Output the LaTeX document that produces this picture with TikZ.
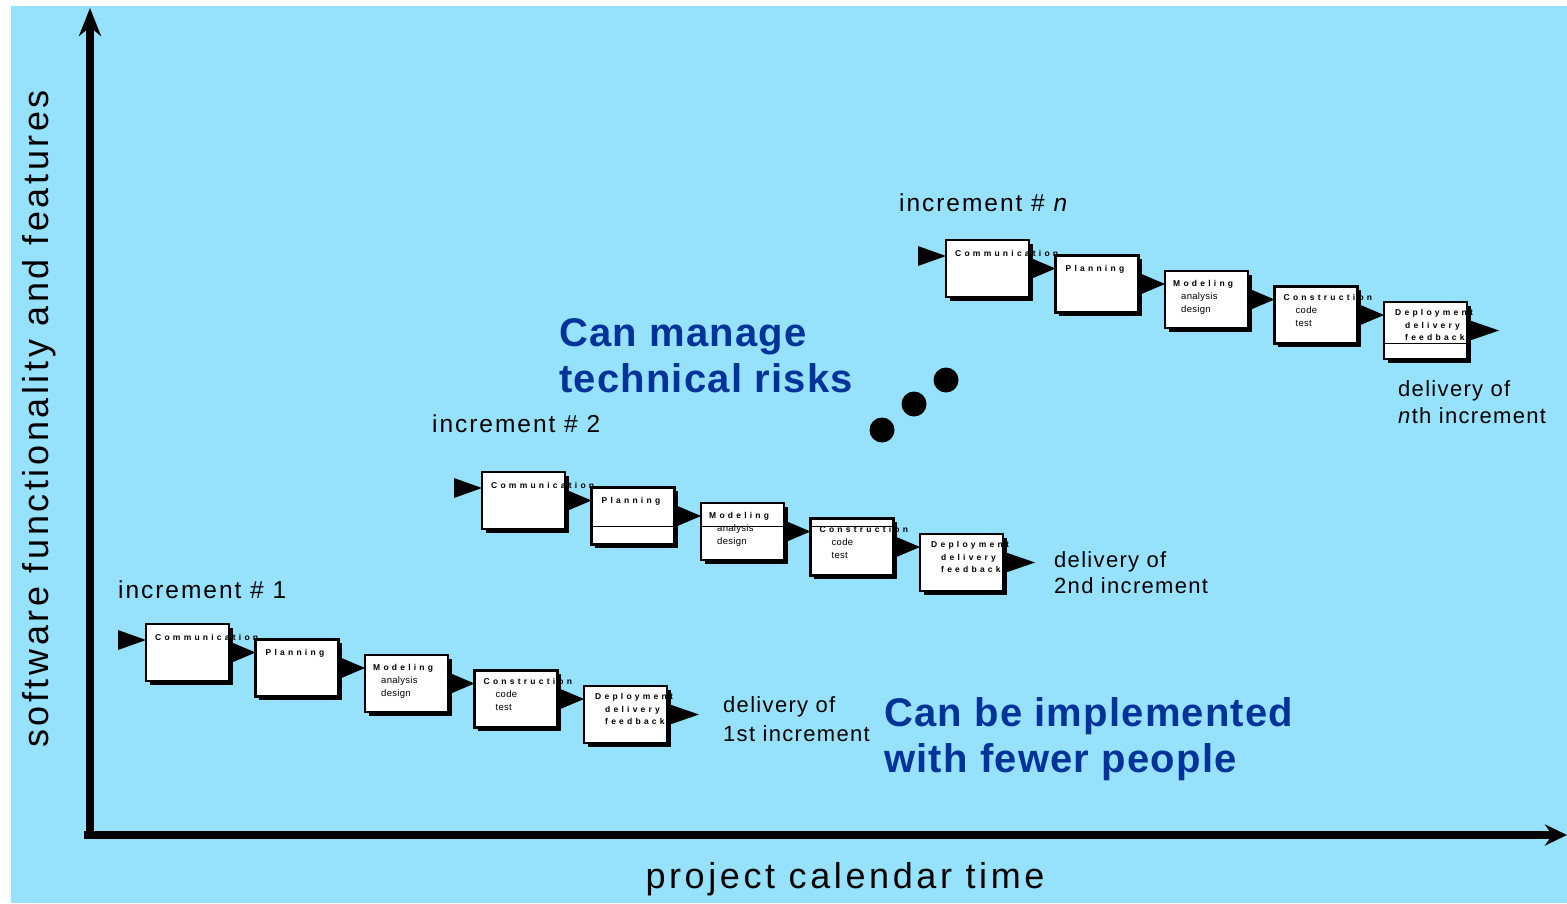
\documentclass[tikz,border=0pt]{standalone}
\usepackage{fontspec}
\setmainfont{Liberation Sans}
\newfontfamily\axisfont[LetterSpace=10]{Liberation Sans}
\newfontfamily\incfont[LetterSpace=8]{Liberation Sans}
\newfontfamily\delfont[LetterSpace=6]{Liberation Sans}
\newfontfamily\notefont[LetterSpace=3]{Liberation Sans}
\newfontfamily\stagefont[LetterSpace=38]{Liberation Sans}
\newfontfamily\itemfont[LetterSpace=3]{Liberation Sans}
\usetikzlibrary{arrows.meta}
\usetikzlibrary{shadows}
\definecolor{skyback}{RGB}{150,226,252}
\definecolor{noteblue}{RGB}{0,51,153}
\tikzset{
  stagebox/.style={draw=black, line width=2.5pt, fill=white, anchor=north west,
    minimum width=83pt, minimum height=57pt, inner sep=0pt, outer sep=0pt,
    drop shadow={shadow xshift=3.5pt, shadow yshift=-3.5pt, fill=black, opacity=1}},
  stagetitle/.style={anchor=base west, inner sep=0pt, font=\stagefont\bfseries\fontsize{8.5}{10}\selectfont},
  stageitem/.style={anchor=base west, inner sep=0pt, font=\itemfont\fontsize{9.5}{11}\selectfont},
  inclabel/.style={anchor=base west, inner sep=0pt, font=\incfont\fontsize{24.5}{29}\selectfont},
  deltext/.style={anchor=base west, inner sep=0pt, font=\delfont\fontsize{22}{26}\selectfont},
  note/.style={anchor=base west, inner sep=0pt, text=noteblue, font=\notefont\bfseries\fontsize{40}{46}\selectfont},
  axislabel/.style={anchor=base, inner sep=0pt, font=\axisfont\fontsize{36}{42}\selectfont},
  axisline/.style={line width=8pt},
  blob/.style={circle, fill=black, minimum size=25pt, inner sep=0pt}
}
\begin{document}
\begin{tikzpicture}[x=1pt,y=-1pt]
  \newcommand{\incdx}{109.5}
  \newcommand{\incdy}{15.5}
  \useasboundingbox (0,0) rectangle (1567,903);
  \fill[skyback] (11,6) rectangle (1567,903);

  % axes
  \coordinate (origin) at (90,835);
  \coordinate (ytop) at (90,8);
  \coordinate (xend) at (1567,835);
  \draw[axisline,-{Stealth[length=28pt,width=22pt]}] ([yshift=-4pt]origin) -- (ytop);
  \draw[axisline,-{Stealth[length=22pt,width=21pt]}] ([xshift=-6pt]origin) -- (xend);
  \node[axislabel,rotate=90] (ylab) at (48,419) {software functionality and features};
  \node[axislabel] (xlab) at (845,888) {project calendar time};

  % increments
  \foreach \k/\x/\y in {1/146/624, 2/482/472, 3/946/240} {
    \node[stagebox] (c\k) at (\x,\y) {};
    \node[stagebox] (p\k) at (\x+\incdx,\y+\incdy) {};
    \node[stagebox] (m\k) at (\x+2*\incdx,\y+2*\incdy) {};
    \node[stagebox] (k\k) at (\x+3*\incdx,\y+3*\incdy) {};
    \node[stagebox] (d\k) at (\x+4*\incdx,\y+4*\incdy) {};
    \foreach \a/\b in {c/p, p/m, m/k, k/d} {
      \fill ([xshift=3pt,yshift=10pt]\a\k.east) -- (\b\k.west |- \a\k.east)
        -- ([xshift=3pt,yshift=-10pt]\a\k.east) -- cycle;
    }
    \coordinate (in\k) at ([xshift=-28pt,yshift=-16pt]c\k.north west);
    \coordinate (out\k) at ([xshift=32pt]d\k.east);
    \fill ([yshift=10pt]in\k) -- (c\k.west |- in\k) -- ([yshift=-10pt]in\k) -- cycle;
    \fill ([xshift=3pt,yshift=10pt]d\k.east) -- (out\k) -- ([xshift=3pt,yshift=-10pt]d\k.east) -- cycle;
    \node[stagetitle] (ct\k) at ([xshift=9pt,yshift=-16pt]c\k.north west) {Communication};
    \node[stagetitle] (pt\k) at ([xshift=10pt,yshift=-16pt]p\k.north west) {Planning};
    \node[stagetitle] (mt\k) at ([xshift=8pt,yshift=-15pt]m\k.north west) {Modeling};
    \node[stageitem] (ma\k) at ([xshift=16pt,yshift=-28pt]m\k.north west) {analysis};
    \node[stageitem] (md\k) at ([xshift=16pt,yshift=-41pt]m\k.north west) {design};
    \node[stagetitle] (kt\k) at ([xshift=9pt,yshift=-14pt]k\k.north west) {Construction};
    \node[stageitem] (kc\k) at ([xshift=21pt,yshift=-27pt]k\k.north west) {code};
    \node[stageitem] (ks\k) at ([xshift=21pt,yshift=-40pt]k\k.north west) {test};
    \node[stagetitle] (dt\k) at ([xshift=11pt,yshift=-13pt]d\k.north west) {Deployment};
    \node[stagetitle] (dd\k) at ([xshift=21pt,yshift=-26pt]d\k.north west) {delivery};
    \node[stagetitle] (df\k) at ([xshift=21pt,yshift=-38pt]d\k.north west) {feedback};
  }

  % stray rules
  \coordinate (rulea) at (0,526.5);
  \coordinate (ruleb) at (0,343);
  \draw[line width=1pt] (p2.west |- rulea) -- (p2.east |- rulea);
  \draw[line width=1pt] (m2.west |- rulea) -- (m2.east |- rulea);
  \draw[line width=1pt] (k2.west |- rulea) -- (k2.east |- rulea);
  \draw[line width=1pt] (d3.west |- ruleb) -- (d3.east |- ruleb);

  % labels
  \node[inclabel] (inc1) at (118,598) {increment \# 1};
  \node[inclabel] (inc2) at (432,432) {increment \# 2};
  \node[inclabel] (inc3) at (899,211) {increment \# \textit{n}};
  \node[deltext] (del1) at (723,712) {delivery of};
  \node[deltext] (del1b) at (723,741) {1st increment};
  \node[deltext] (del2) at (1054,567) {delivery of};
  \node[deltext] (del2b) at (1054,593) {2nd increment};
  \node[deltext] (del3) at (1398,396) {delivery of};
  \node[deltext] (del3b) at (1398,423) {\textit{n}th increment};

  % dots
  \node[blob] (dot1) at (882,430) {};
  \node[blob] (dot2) at (914,404) {};
  \node[blob] (dot3) at (946,380) {};

  % notes
  \node[note] (risk) at (559,346) {Can manage};
  \node[note] (riskb) at (559,392) {technical risks};
  \node[note] (fewer) at (884,726) {Can be implemented};
  \node[note] (fewerb) at (884,772) {with fewer people};
\end{tikzpicture}
\end{document}
